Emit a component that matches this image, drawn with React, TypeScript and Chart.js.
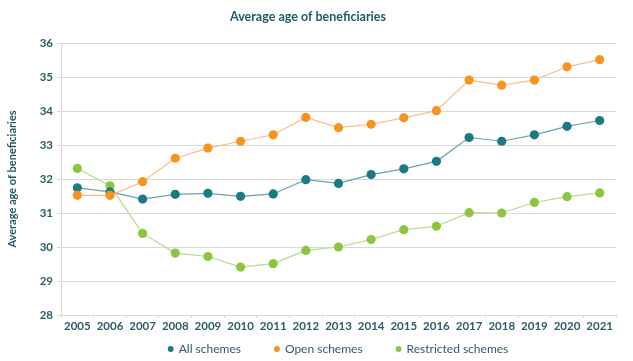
import React, { useEffect, useRef } from "react";
import { Chart, registerables } from "chart.js";

Chart.register(...registerables);

const years = ["2005","2006","2007","2008","2009","2010","2011","2012","2013","2014","2015","2016","2017","2018","2019","2020","2021"];
const allSchemes = [31.74, 31.62, 31.41, 31.55, 31.58, 31.49, 31.56, 31.98, 31.87, 32.13, 32.3, 32.52, 33.22, 33.11, 33.3, 33.55, 33.72];
const openSchemes = [31.52, 31.52, 31.92, 32.61, 32.91, 33.11, 33.3, 33.81, 33.51, 33.61, 33.8, 34.01, 34.91, 34.76, 34.91, 35.3, 35.51];
const restrictedSchemes = [32.31, 31.8, 30.4, 29.82, 29.72, 29.41, 29.51, 29.9, 30.0, 30.22, 30.51, 30.61, 31.01, 31.0, 31.31, 31.48, 31.59];
const seriesNames = ["All schemes", "Open schemes", "Restricted schemes"];
const yMin = 28;
const yMax = 36;

const FONT = "Lato";
const TEXT = "#2b5d68";

export default function App() {
  const ref = useRef<HTMLCanvasElement | null>(null);
  useEffect(() => {
    if (!ref.current) return;
    const mk = (label: string, data: number[], point: string, line: string, order: number) => ({
      label,
      data,
      borderColor: line,
      backgroundColor: point,
      borderWidth: 1.2,
      pointRadius: 4.6,
      pointHoverRadius: 4.6,
      pointBackgroundColor: point,
      pointBorderColor: point,
      pointBorderWidth: 0,
      tension: 0,
      order,
    });
    const chart = new Chart(ref.current, {
      type: "line",
      data: {
        labels: years,
        datasets: [
          mk(seriesNames[0], allSchemes, "#1b7a86", "#68a5ad", 1),
          mk(seriesNames[1], openSchemes, "#f7941d", "#fbbd86", 0),
          mk(seriesNames[2], restrictedSchemes, "#8cc63f", "#b5db8c", 2),
        ],
      },
      options: {
        animation: false,
        responsive: true,
        maintainAspectRatio: false,
        layout: { padding: { left: 0, right: 17, top: 0, bottom: 0 } },
        plugins: {
          tooltip: { enabled: false },
          title: {
            display: true,
            text: "Average age of beneficiaries",
            color: "#1f5a66",
            font: { family: FONT, size: 12.5, weight: "bold" },
            padding: { top: 9.5, bottom: 18.5 },
          },
          legend: {
            display: true,
            position: "bottom",
            fullSize: false,
            labels: {
              usePointStyle: true,
              pointStyle: "circle",
              boxWidth: 4,
              boxHeight: 4.2,
              padding: 10,
              color: TEXT,
              font: { family: FONT, size: 12 },
              sort: (a: any, b: any) => a.datasetIndex - b.datasetIndex,
              generateLabels: (chart: any) => {
                const base = Chart.defaults.plugins.legend.labels.generateLabels(chart);
                return base.map((it: any) => ({
                  ...it,
                  text: it.datasetIndex < 2 ? it.text + "\u2003\u2003\u2002" : it.text,
                }));
              },
            },
          },
        },
        scales: {
          x: {
            offset: true,
            afterFit: (s: any) => { s.height = 18; },
            grid: {
              display: true,
              drawOnChartArea: false,
              drawTicks: true,
              tickLength: 3,
              color: "#d9d9d9",
              offset: true,
            },
            border: { display: true, color: "#d9d9d9" },
            ticks: {
              color: TEXT,
              padding: 1,
              maxRotation: 0,
              autoSkip: false,
              font: { family: FONT, size: 11.5, weight: "bold" },
            },
          },
          y: {
            min: yMin,
            max: yMax,
            afterFit: (s: any) => { s.width = 61; },
            grid: { color: "#d9d9d9", drawTicks: true, tickLength: 4 },
            border: { display: true, color: "#d9d9d9" },
            ticks: {
              stepSize: 1,
              color: TEXT,
              padding: 4,
              font: { family: FONT, size: 11.5, weight: "bold" },
            },
            title: {
              display: true,
              text: "Average age of beneficiaries",
              color: "#1f5a66",
              font: { family: FONT, size: 11, weight: "bold" },
              padding: { top: 6, bottom: 0 },
            },
          },
        },
      },
    });
    return () => chart.destroy();
  }, []);
  return (
    <div style={{ position: "fixed", left: 0, top: 0, width: 633, height: 365, background: "#fff" }}>
      <canvas ref={ref} />
    </div>
  );
}
